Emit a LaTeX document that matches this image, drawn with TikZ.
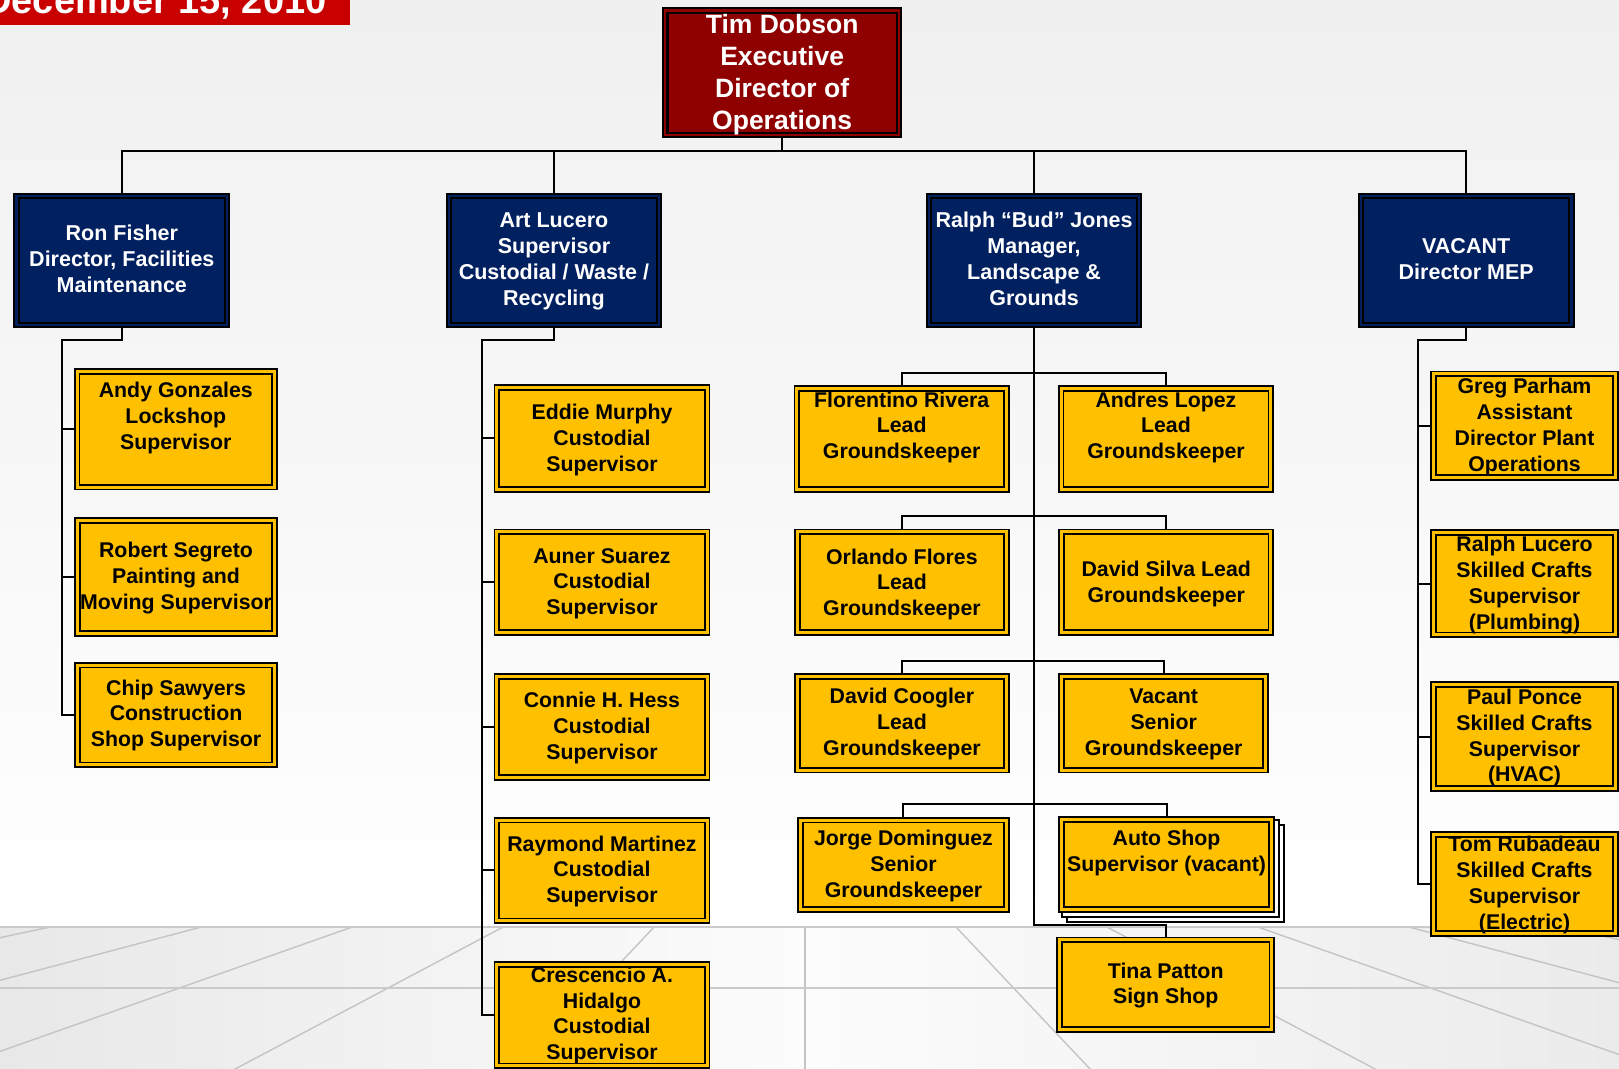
\documentclass[tikz,border=0pt]{standalone}
\usepackage{fontspec}
\setmainfont{Liberation Sans}
\usetikzlibrary{fit,calc}
\definecolor{orggold}{HTML}{FFC000}
\definecolor{orgnavy}{HTML}{002060}
\definecolor{orgred}{HTML}{8F0000}
\definecolor{bannerred}{HTML}{C80000}
\definecolor{bgtop}{HTML}{F0F0F0}
\definecolor{floorl}{HTML}{E8E8E8}
\definecolor{floorm}{HTML}{FCFCFC}
\definecolor{floorr}{HTML}{EBEBEB}
\definecolor{gridline}{HTML}{C4C4C4}
\pgfdeclarelayer{back}
\pgfdeclarelayer{conn}
\pgfsetlayers{back,conn,main}
\tikzset{
  goldbox/.style={fill=orggold, draw=black, line width=1.8pt, double=orggold, double distance=3pt, inner sep=-3.3pt},
  goldboxtxt/.style={text=black, font=\fontsize{21.3}{25.8}\selectfont\bfseries, align=center, inner sep=0pt},
  navybox/.style={fill=orgnavy, draw=black, line width=1.9pt, double=orgnavy, double distance=2.4pt, inner sep=-3.1pt},
  navyboxtxt/.style={text=white, font=\fontsize{21.5}{25.8}\selectfont\bfseries, align=center, inner sep=0pt},
  redbox/.style={fill=orgred, draw=black, line width=2.2pt, double=orgred, double distance=2.4pt, inner sep=-3.4pt},
  redboxtxt/.style={text=white, font=\fontsize{26.5}{32}\selectfont\bfseries, align=center, inner sep=0pt},
  datetxt/.style={text=white, font=\fontsize{38}{38}\selectfont\bfseries, anchor=base east, inner sep=0pt},
  link/.style={draw=black, line width=2pt},
  stackbox/.style={fill=white, draw=black, line width=1.4pt},
  floorline/.style={draw=gridline, line width=1.4pt},
  horizonline/.style={draw=gridline!90, line width=2.2pt},
}
\newcommand{\obox}[8]{%
  \node[#1, fit={(#3,#4) (#5,#6)}] (#2) {};
  \node[#1txt] (#2t) at ({(#3+#5)/2},#7) {\rule{0pt}{20pt}#8\rule[-5pt]{0pt}{5pt}};
}
\begin{document}
\begin{tikzpicture}[x=1.0325pt,y=-1.0325pt]
\useasboundingbox (0,0) rectangle (1568,1034.4);
\begin{pgfonlayer}{back}
  \clip (0,0) rectangle (1568,1034.4);
  \shade[top color=bgtop, bottom color=white] (0,0) rectangle (1568,897.8);
  \shade[left color=floorl, right color=floorr, middle color=floorm] (0,897.8) rectangle (1568,1034.4);
  \foreach \k in {-6,...,6} \draw[floorline] ({779.7+146.2*\k},897.8) -- ({779.7+438.6*\k},1207.6);
  \draw[horizonline] (0,897.8) -- (1568,897.8);
  \draw[horizonline] (0,956.9) -- (1568,956.9);
\end{pgfonlayer}

% date banner
\fill[bannerred] (0,0) rectangle (339,24.2);
\node[datetxt] (date) at (316.5,12.6) {December 15, 2010};

% top
\obox{redbox}{tim}{641}{7}{874}{134}{71.5}{Tim Dobson\\Executive\\Director of\\Operations}

% level 2
\obox{navybox}{ron}{13}{187}{223}{318}{251}{Ron Fisher\\Director, Facilities\\Maintenance}
\obox{navybox}{art}{432}{187}{641}{318}{251}{Art Lucero\\Supervisor\\Custodial / Waste /\\Recycling}
\obox{navybox}{ralph}{897}{187}{1106}{318}{251}{Ralph “Bud” Jones\\Manager,\\Landscape \&\\Grounds}
\obox{navybox}{vac}{1315}{187}{1525}{318}{251}{VACANT\\Director MEP}

% Ron Fisher column
\obox{goldbox}{andy}{71.5}{356.6}{269}{475}{403}{Andy Gonzales\\Lockshop\\Supervisor}
\obox{goldbox}{robert}{72}{501}{269}{617}{557.7}{Robert Segreto\\Painting and\\Moving Supervisor}
\obox{goldbox}{chip}{72}{641}{269}{744}{691}{Chip Sawyers\\Construction\\Shop Supervisor}

% Art Lucero column
\obox{goldbox}{eddie}{478}{372}{688}{477}{424}{Eddie Murphy\\Custodial\\Supervisor}
\obox{goldbox}{auner}{478}{512}{688}{616}{563}{Auner Suarez\\Custodial\\Supervisor}
\obox{goldbox}{connie}{478}{652}{688}{756}{703}{Connie H. Hess\\Custodial\\Supervisor}
\obox{goldbox}{raymond}{478}{791}{688}{895}{842}{Raymond Martinez\\Custodial\\Supervisor}
\obox{goldbox}{cres}{478}{931}{688}{1035.5}{981.5}{Crescencio A.\\Hidalgo\\Custodial\\Supervisor}

% Ralph Jones column
\obox{goldbox}{flor}{768.5}{373}{978}{477.5}{412}{Florentino Rivera\\Lead\\Groundskeeper}
\obox{goldbox}{andres}{1024.5}{373}{1234}{477.5}{412}{Andres Lopez\\Lead\\Groundskeeper}
\obox{goldbox}{orlando}{769}{512}{978}{616}{564}{Orlando Flores\\Lead\\Groundskeeper}
\obox{goldbox}{silva}{1025}{512}{1234}{616}{563.5}{David Silva Lead\\Groundskeeper}
\obox{goldbox}{coogler}{769}{652}{978}{749}{699}{David Coogler\\Lead\\Groundskeeper}
\obox{goldbox}{vacsr}{1025}{652}{1229}{749}{699}{Vacant\\Senior\\Groundskeeper}
\obox{goldbox}{jorge}{772}{791}{978}{884}{836.5}{Jorge Dominguez\\Senior\\Groundskeeper}
\draw[stackbox] (1033.4,799) rectangle (1243.6,893);
\draw[stackbox] (1028.6,794.2) rectangle (1238.8,888.2);
\obox{goldbox}{auto}{1024.7}{790.3}{1234.9}{884.3}{824}{Auto Shop\\Supervisor (vacant)}
\obox{goldbox}{tina}{1023}{907}{1235}{1000.5}{952.5}{Tina Patton\\Sign Shop}

% VACANT column
\obox{goldbox}{greg}{1385}{359}{1568}{465.5}{411.5}{Greg Parham\\Assistant\\Director Plant\\Operations}
\obox{goldbox}{ralphl}{1385}{512.4}{1568}{618}{564.5}{Ralph Lucero\\Skilled Crafts\\Supervisor\\(Plumbing)}
\obox{goldbox}{paul}{1385}{660}{1568}{767}{712.5}{Paul Ponce\\Skilled Crafts\\Supervisor\\(HVAC)}
\obox{goldbox}{tom}{1385}{805}{1568}{907}{855}{Tom Rubadeau\\Skilled Crafts\\Supervisor\\(Electric)}

% connectors
\begin{pgfonlayer}{conn}
  \coordinate (topbar) at (757.5,146);
  \draw[link] (tim.south) -- (topbar);
  \draw[link] (ron.north) |- (topbar) -| (vac.north);
  \draw[link] (art.north) -- (art.north |- topbar);
  \draw[link] (ralph.north) -- (ralph.north |- topbar);
  % left column
  \coordinate (ltr) at (60,329);
  \draw[link] (ron.south) |- (ltr) -- (ltr |- chip.west) -- (chip.west);
  \draw[link] (ltr |- andy.west) -- (andy.west);
  \draw[link] (ltr |- robert.west) -- (robert.west);
  % art column
  \coordinate (atr) at (466.8,329);
  \draw[link] (art.south) |- (atr) -- (atr |- cres.west) -- (cres.west);
  \draw[link] (atr |- eddie.west) -- (eddie.west);
  \draw[link] (atr |- auner.west) -- (auner.west);
  \draw[link] (atr |- connie.west) -- (connie.west);
  \draw[link] (atr |- raymond.west) -- (raymond.west);
  % vacant column
  \coordinate (vtr) at (1373.6,329);
  \draw[link] (vac.south) |- (vtr) -- (vtr |- tom.west) -- (tom.west);
  \draw[link] (vtr |- greg.west) -- (greg.west);
  \draw[link] (vtr |- ralphl.west) -- (ralphl.west);
  \draw[link] (vtr |- paul.west) -- (paul.west);
  % ralph column
  \coordinate (tinabar) at (1129,896);
  \draw[link] (ralph.south) |- (tinabar) -- (tina.north);
  \coordinate (bar1) at (0,361);
  \coordinate (bar2) at (0,500);
  \coordinate (bar3) at (0,640);
  \coordinate (bar4) at (0,779);
  \draw[link] (flor.north) -- (flor.north |- bar1) -| (andres.north);
  \draw[link] (orlando.north) -- (orlando.north |- bar2) -| (silva.north);
  \draw[link] (coogler.north) -- (coogler.north |- bar3) -| (vacsr.north);
  \draw[link] (jorge.north) -- (jorge.north |- bar4) -| (auto.north);
\end{pgfonlayer}
\end{tikzpicture}
\end{document}
